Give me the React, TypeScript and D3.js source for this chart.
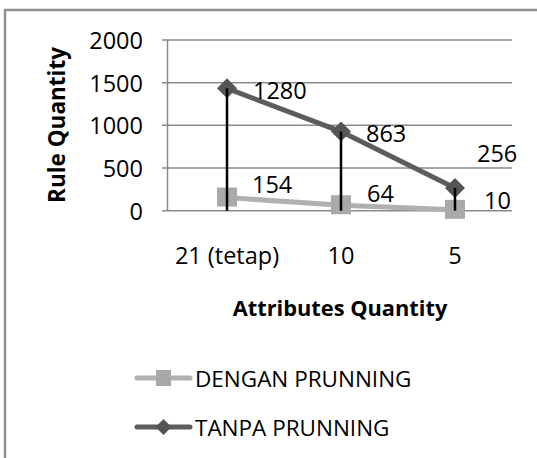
import React from "react";
import * as d3 from "d3";

const categories = ["21 (tetap)", "10", "5"];
const denganValues = [154, 64, 10];
const tanpaValues = [1280, 863, 256];
const yTicks = [0, 500, 1000, 1500, 2000];
const seriesNames = ["DENGAN PRUNNING", "TANPA PRUNNING"];
// label nudges (px) relative to point
const denganLabelOffsets = [[25, -14], [26, -12], [29, -10]];
const tanpaLabelOffsets = [[26, 2], [25, 1], [22, -35]];

const W = 537;
const H = 458;
const FONT = "'Open Sans', Lato, sans-serif";
const FS = 23.5;

export default function App() {
  const x = d3.scaleBand<string>().domain(categories).range([170, 512]);
  const y = d3.scaleLinear().domain([0, 2000]).range([210.7, 40]);
  const cx = (c: string) => (x(c) as number) + x.bandwidth() / 2;

  const stacked = tanpaValues.map((v, i) => v + denganValues[i]);
  const line = d3
    .line<number>()
    .x((_, i) => cx(categories[i]))
    .y((d) => y(d));

  const lightColor = "#b0b0b0";
  const lightMarker = "#a9a9a9";
  const darkColor = "#5c5c5c";
  const darkMarker = "#555555";

  const diamond = (px: number, py: number, r: number) =>
    `M${px},${py - r}L${px + r},${py}L${px},${py + r}L${px - r},${py}Z`;

  return (
    <svg width={W} height={H} style={{ position: "absolute", left: 0, top: 0 }}>
      <rect x={0} y={0} width={W} height={H} fill="#fff" />
      <rect x={5} y={10} width={W + 20} height={H + 20} fill="none" stroke="#8f8f8f" strokeWidth={2.5} />

      {/* gridlines */}
      {yTicks.map((t) => (
        <g key={t}>
          <line x1={162} x2={512} y1={y(t)} y2={y(t)} stroke="#8a8a8a" strokeWidth={1.5} />
          <text
            x={143}
            y={y(t)}
            textAnchor="end"
            dominantBaseline="central"
            fontFamily={FONT}
            fontSize={FS}
            fill="#000"
          >
            {t}
          </text>
        </g>
      ))}
      <line x1={167.5} x2={167.5} y1={y(2000)} y2={y(0)} stroke="#8a8a8a" strokeWidth={1.5} />

      {/* category labels */}
      {categories.map((c) => (
        <text
          key={c}
          x={cx(c)}
          y={255}
          textAnchor="middle"
          dominantBaseline="central"
          fontFamily={FONT}
          fontSize={FS}
        >
          {c}
        </text>
      ))}

      {/* axis titles */}
      <text
        x={340}
        y={307}
        textAnchor="middle"
        dominantBaseline="central"
        fontFamily={FONT}
        fontWeight="bold"
        fontSize={21.8}
      >
        Attributes Quantity
      </text>
      <text
        transform={`translate(56,125) rotate(-90)`}
        textAnchor="middle"
        dominantBaseline="central"
        fontFamily={FONT}
        fontWeight="bold"
        fontSize={22.5}
      >
        Rule Quantity
      </text>

      {/* lines */}
      <path d={line(denganValues) || ""} fill="none" stroke={lightColor} strokeWidth={5} />
      <path d={line(stacked) || ""} fill="none" stroke={darkColor} strokeWidth={5} />

      {denganValues.map((v, i) => {
        const px = cx(categories[i]);
        const py = y(v);
        return <rect key={i} x={px - 10} y={py - 10} width={20} height={19} fill={lightMarker} />;
      })}
      {stacked.map((v, i) => {
        const px = cx(categories[i]);
        const py = y(v);
        return <path key={i} d={diamond(px, py, 10)} fill={darkMarker} />;
      })}

      {/* drop lines */}
      {stacked.map((v, i) => {
        const px = cx(categories[i]);
        return (
          <line key={i} x1={px} x2={px} y1={y(v)} y2={y(0)} stroke="#000" strokeWidth={2.5} />
        );
      })}

      {/* data labels */}
      {denganValues.map((v, i) => (
        <text
          key={i}
          x={cx(categories[i]) + denganLabelOffsets[i][0]}
          y={y(v) + denganLabelOffsets[i][1]}
          dominantBaseline="central"
          fontFamily={FONT}
          fontSize={FS}
        >
          {v}
        </text>
      ))}
      {tanpaValues.map((v, i) => (
        <text
          key={i}
          x={cx(categories[i]) + tanpaLabelOffsets[i][0]}
          y={y(stacked[i]) + tanpaLabelOffsets[i][1]}
          dominantBaseline="central"
          fontFamily={FONT}
          fontSize={FS}
        >
          {v}
        </text>
      ))}

      {/* legend */}
      {seriesNames.map((name, i) => {
        const ly = i === 0 ? 378 : 427;
        const color = i === 0 ? lightColor : darkColor;
        return (
          <g key={name}>
            <line x1={137} x2={190} y1={ly} y2={ly} stroke={color} strokeWidth={5} strokeLinecap="round" />
            {i === 0 ? (
              <rect x={156} y={ly - 8} width={15} height={16} fill={lightMarker} />
            ) : (
              <path d={diamond(163.5, ly, 8)} fill={darkMarker} />
            )}
            <text x={195} y={ly} dominantBaseline="central" fontFamily={FONT} fontSize={22.5}>
              {name}
            </text>
          </g>
        );
      })}
    </svg>
  );
}
